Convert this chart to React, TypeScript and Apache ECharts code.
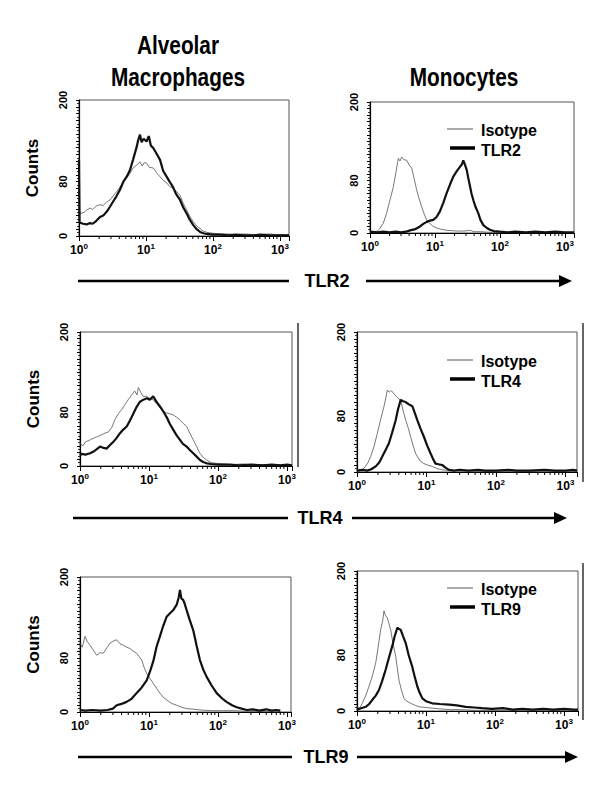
import { useEffect, useRef } from 'react';
import * as echarts from 'echarts';

// ---------- data (fluorescence intensity, counts) ----------
const amTlr2Iso: number[][] = [[1,40],[1.05,33],[1.2,35],[1.3,38],[1.46,41],[1.6,39],[1.8,44],[2.06,46],[2.3,45],[2.6,50],[2.9,53],[3.3,60],[3.7,66],[4.09,72],[4.6,80],[5.2,86],[5.77,92],[6.4,100],[7.2,104],[8.13,109],[8.8,103],[9.4,108],[10.2,107],[11.2,101],[12.9,100],[14.4,93],[16.2,87],[18,82],[20.4,78],[22.5,73],[25.3,70],[28,66],[32.2,60],[36,48],[40.5,38],[45,29],[50.8,21],[57,15],[64,11],[72,7],[84,5],[100,4],[130,3],[170,3],[220,2],[300,3],[400,2],[500,2],[700,3],[900,2],[1200,2],[1362,2]];
const amTlr2: number[][] = [[1,112],[1.02,20],[1.15,18],[1.3,17],[1.46,19],[1.6,18],[1.8,22],[2.06,28],[2.3,30],[2.6,36],[2.9,43],[3.2,50],[3.6,58],[4.09,68],[4.6,80],[5.2,88],[5.77,97],[6.4,112],[7.26,131],[7.6,140],[8.13,149],[8.6,138],[9.2,143],[10.2,139],[11,147],[11.8,133],[12.9,129],[14.4,121],[16.2,112],[18,96],[20.4,87],[22.5,80],[25.3,72],[28,62],[32.2,53],[36,42],[40.5,33],[45,24],[50.8,16],[57,10],[64,6],[72,4],[80.5,3],[100,2],[130,2],[170,1],[220,2],[300,1],[400,1],[500,2],[700,1],[900,1],[1200,1],[1362,1]];
const moTlr2Iso: number[][] = [[1,1],[1.2,2],[1.3,3],[1.42,7],[1.6,15],[1.8,30],[2.0,48],[2.28,70],[2.5,92],[2.73,114],[2.9,110],[3.07,116],[3.3,112],[3.67,111],[4.0,104],[4.38,99],[4.8,82],[5.22,66],[5.7,52],[6.24,40],[6.8,29],[7.45,20],[8.4,14],[9.4,10],[11,7],[13.4,5],[16,4],[21.6,3],[28,3],[35,4],[40,2],[50,2],[70,1],[100,1],[200,1],[400,1],[800,1],[1375,1]];
const moTlr2: number[][] = [[1,2],[1.3,1],[1.6,2],[2,1],[2.5,2],[3,1],[3.6,2],[4.12,4],[5,6],[5.89,10],[6.6,14],[7.45,17],[8.4,19],[9.4,20],[10.5,24],[11.9,33],[13.4,46],[15.1,61],[17,74],[19.1,86],[21.5,94],[24.2,101],[26,105],[27.2,111],[29,104],[30.8,96],[32.5,84],[34.6,71],[36.5,60],[38.9,50],[42,40],[46.4,30],[50,20],[55.4,12],[62,8],[70,5],[80,3],[100,2],[130,1],[170,2],[250,1],[350,2],[500,1],[700,2],[1000,1],[1375,1]];
const amTlr4Iso: number[][] = [[1,34],[1.1,30],[1.2,36],[1.4,39],[1.6,42],[1.8,44],[2.0,46],[2.3,49],[2.6,51],[2.9,58],[3.2,69],[3.6,78],[4.0,84],[4.5,92],[5.0,99],[5.6,106],[6.2,112],[6.7,106],[7.0,117],[7.6,110],[8.2,104],[9.26,104],[10.3,101],[11.5,99],[12.8,93],[14.4,87],[16,82],[18,79],[20,78],[22.5,76],[25,73],[28.1,69],[31,64],[35.1,59],[39,49],[43.8,39],[49,29],[54.7,19],[61,13],[68.5,9],[80,5],[95,4],[120,3],[160,2],[220,3],[300,2],[450,2],[600,1],[800,2],[1000,2],[1181,2]];
const amTlr4: number[][] = [[1,16],[1.06,18],[1.2,17],[1.4,19],[1.6,22],[1.95,29],[2.2,27],[2.44,26],[2.7,31],[3.04,36],[3.4,42],[3.8,49],[4.2,54],[4.75,59],[5.3,68],[5.92,78],[6.6,88],[7.4,96],[8.3,99],[9.26,101],[10.3,99],[11.5,104],[12.8,96],[14.4,89],[16,82],[18,73],[20,63],[22.5,54],[25,46],[28.1,39],[31,33],[35.1,29],[39,24],[43.8,19],[49,14],[54.7,9],[61,6],[68.5,4],[80,3],[100,2],[150,2],[200,1],[300,2],[450,1],[600,2],[800,1],[1000,2],[1181,1]];
const moTlr4Iso: number[][] = [[1,1],[1.15,2],[1.33,8],[1.45,14],[1.57,22],[1.75,36],[1.96,55],[2.2,76],[2.45,94],[2.6,106],[2.73,117],[2.9,114],[3.05,116],[3.22,115],[3.5,110],[3.8,107],[4.0,104],[4.25,103],[4.6,88],[5.02,74],[5.5,62],[5.93,50],[6.4,38],[7.0,26],[7.6,20],[8.25,15],[9.2,12],[10.3,10],[12.1,8],[14,5],[17,3],[22,2],[30,2],[50,1],[100,1],[200,1],[500,1],[1000,1],[1463,1]];
const moTlr4: number[][] = [[1,2],[1.2,3],[1.4,2],[1.6,4],[1.86,8],[2.1,14],[2.31,22],[2.6,32],[2.88,41],[3.2,56],[3.6,74],[3.9,90],[4.25,103],[4.6,101],[5.02,100],[5.5,97],[6.25,94],[6.8,84],[7.37,74],[8.2,62],[9.2,50],[10.2,38],[11.5,26],[12.5,18],[13.5,12],[15,11],[16.8,10],[19,6],[21.1,3],[25,2],[30,3],[40,2],[55,3],[70,2],[100,2],[150,3],[200,2],[300,2],[500,3],[700,2],[1000,2],[1300,3],[1463,2]];
const amTlr9Iso: number[][] = [[1,102],[1.08,96],[1.18,112],[1.28,104],[1.4,99],[1.55,92],[1.75,84],[1.95,88],[2.17,87],[2.45,95],[2.72,102],[3.05,105],[3.4,107],[3.8,101],[4.24,99],[4.74,96],[5.3,94],[5.9,90],[6.63,87],[7.2,82],[7.83,77],[8.5,66],[9.26,57],[10.3,50],[11.6,42],[12.9,35],[14.4,28],[16,22],[18,18],[21,13],[25.2,10],[30,7],[35.1,5],[45,4],[54.7,3],[80,2],[120,2],[180,2],[250,1],[400,1],[600,1],[800,1]];
const amTlr9: number[][] = [[1,3],[1.2,2],[1.5,3],[2,2],[2.5,3],[3.0,5],[3.4,10],[4.0,12],[4.74,15],[5.5,19],[6.63,28],[7.8,36],[9.26,47],[10.5,62],[11.6,76],[12.9,97],[14.4,112],[16,127],[18,141],[20,146],[22.5,151],[25.2,159],[27,170],[28.1,181],[29.5,168],[31.3,166],[33,160],[35.1,151],[39,136],[43.8,121],[49,98],[54.7,77],[61,63],[68.5,52],[80,40],[95.7,28],[115,20],[133,15],[160,10],[187,7],[220,5],[260,3],[320,4],[400,2],[500,4],[600,2],[700,3],[800,2]];
const moTlr9Iso: number[][] = [[1,6],[1.1,4],[1.19,11],[1.34,22],[1.49,35],[1.67,50],[1.87,69],[2.05,95],[2.2,116],[2.35,128],[2.46,143],[2.6,136],[2.75,133],[2.9,125],[3.08,116],[3.3,98],[3.64,78],[3.85,60],[4.06,44],[4.4,30],[4.79,18],[5.3,14],[6.0,11],[7.0,8],[7.92,6],[10,5],[12.3,4],[16,3],[22,2],[30,2],[50,1],[100,1],[300,1],[1000,1],[1595,1]];
const moTlr9: number[][] = [[1,2],[1.15,4],[1.34,6],[1.5,10],[1.67,16],[1.87,22],[2.08,30],[2.3,42],[2.6,59],[2.9,76],[3.25,93],[3.5,106],[3.84,119],[4.06,117],[4.3,116],[4.6,108],[5.08,97],[5.6,80],[6.33,63],[6.9,48],[7.49,35],[8.1,26],[8.85,18],[10,14],[12.3,11],[16,10],[21.6,9],[28,8],[37.6,6],[50,5],[65,4],[90,3],[130,4],[180,2],[250,3],[350,2],[500,3],[700,2],[1000,3],[1400,2],[1595,2]];

const yLabels = [0, 80, 200];
const minorX = [2, 3, 4, 5, 6, 7, 8, 9, 20, 30, 40, 50, 60, 70, 80, 90, 200, 300, 400, 500, 600, 700, 800, 900];
const titles = ['Alveolar', 'Macrophages', 'Monocytes'];
const markers = ['TLR2', 'TLR4', 'TLR9'];
const isoName = 'Isotype';

// ---------- layout ----------
const FONT = '"Liberation Sans", Arial, Helvetica, sans-serif';
const panels = [
  { left: 79, top: 100, width: 210, height: 136, xMax: 1362, iso: amTlr2Iso, pos: amTlr2, counts: true, legend: null as null | { name: string; y: number } },
  { left: 370, top: 102, width: 204, height: 131, xMax: 1375, iso: moTlr2Iso, pos: moTlr2, counts: false, legend: { name: markers[0], y: 129 } },
  { left: 80, top: 332, width: 212, height: 134, xMax: 1181, iso: amTlr4Iso, pos: amTlr4, counts: true, legend: null },
  { left: 357, top: 332, width: 220, height: 140, xMax: 1463, iso: moTlr4Iso, pos: moTlr4, counts: false, legend: { name: markers[1], y: 360 } },
  { left: 80, top: 577, width: 211, height: 135, xMax: 1143, iso: amTlr9Iso, pos: amTlr9, counts: true, legend: null },
  { left: 357, top: 571, width: 221, height: 140, xMax: 1595, iso: moTlr9Iso, pos: moTlr9, counts: false, legend: { name: markers[2], y: 588 } },
];

const arrowRows = [
  { y: 281, l1: 78, l2: 289, tx: 327, a1: 366, tip: 572 },
  { y: 518, l1: 73, l2: 288, tx: 320, a1: 352, tip: 567 },
  { y: 757, l1: 78, l2: 292, tx: 326, a1: 357, tip: 578 },
];

function buildOption() {
  const grid: any[] = [];
  const xAxis: any[] = [];
  const yAxis: any[] = [];
  const series: any[] = [];
  const graphic: any[] = [];

  panels.forEach((p, i) => {
    grid.push({
      left: p.left, top: p.top, width: p.width, height: p.height,
      show: true, borderColor: '#555', borderWidth: 1, backgroundColor: 'transparent',
      containLabel: false, outerBoundsMode: 'none',
    });
    xAxis.push({
      type: 'log', logBase: 10, gridIndex: i, min: 1, max: p.xMax,
      axisLine: { show: true, lineStyle: { color: '#000', width: 1.2 } },
      axisTick: { show: true, length: 5, lineStyle: { color: '#000', width: 1 } },
      splitLine: { show: false },
      minorTick: { show: false },
      axisLabel: {
        margin: 6,
        color: '#000',
        formatter: (v: number) => {
          const l = Math.log10(v);
          const e = Math.round(l);
          if (Math.abs(l - e) > 1e-6) return '';
          return `{b|10}{s|${e}}`;
        },
        rich: {
          b: { fontSize: 12, fontWeight: 'bold', fontFamily: FONT, color: '#000', lineHeight: 14, verticalAlign: 'bottom' },
          s: { fontSize: 8, fontWeight: 'bold', fontFamily: FONT, color: '#000', lineHeight: 9, verticalAlign: 'top' },
        },
      },
    });
    yAxis.push({
      type: 'value', gridIndex: i, min: 0, max: 200, interval: 10,
      axisLine: { show: true, lineStyle: { color: '#000', width: 1.2 } },
      axisTick: { show: true, length: 3, lineStyle: { color: '#000', width: 1 } },
      minorTick: { show: true, splitNumber: 2, length: 2, lineStyle: { color: '#333' } },
      splitLine: { show: false },
      axisLabel: {
        rotate: 90, margin: 11, color: '#000', fontSize: 11, fontWeight: 'bold', fontFamily: FONT,
        formatter: (v: number) => (yLabels.includes(v) ? String(v) : ''),
      },
      name: p.counts ? 'Counts' : '',
      nameLocation: 'middle', nameRotate: 90, nameGap: 38,
      nameTextStyle: { fontSize: 17, fontWeight: 'bold', fontFamily: FONT, color: '#000' },
    });
    series.push({
      type: 'line', name: isoName, xAxisIndex: i, yAxisIndex: i, data: p.iso,
      symbol: 'none', lineStyle: { width: 0.8, color: '#555' }, z: 3, silent: true,
    });
    series.push({
      type: 'line', name: p.legend ? p.legend.name : markers[Math.floor(i / 2)], xAxisIndex: i, yAxisIndex: i, data: p.pos,
      symbol: 'none', lineStyle: { width: 2.2, color: '#111' }, z: 4, silent: true,
    });
    series.push({
      type: 'custom', xAxisIndex: i, yAxisIndex: i, silent: true, clip: false,
      data: minorX.filter((v) => v < p.xMax).map((v) => [v, 0]),
      encode: { x: 0, y: 1 },
      renderItem: (_params: any, api: any) => {
        const pt = api.coord([api.value(0), 0]);
        return {
          type: 'line',
          shape: { x1: pt[0], y1: pt[1], x2: pt[0], y2: pt[1] + 3 },
          style: { stroke: '#000', lineWidth: 1 },
        };
      },
    });

    if (p.legend) {
      const ly = p.legend.y;
      graphic.push(
        { type: 'line', shape: { x1: 447, y1: ly, x2: 473, y2: ly }, style: { stroke: '#555', lineWidth: 1 } },
        { type: 'text', x: 481, y: ly + 1, style: { text: isoName, fontSize: 16, fontWeight: 'bold', fontFamily: FONT, fill: '#000', align: 'left', verticalAlign: 'middle' } },
        { type: 'line', shape: { x1: 450, y1: ly + 19, x2: 475, y2: ly + 19 }, style: { stroke: '#000', lineWidth: 3.5 } },
        { type: 'text', x: 481, y: ly + 21, style: { text: p.legend.name, fontSize: 16, fontWeight: 'bold', fontFamily: FONT, fill: '#000', align: 'left', verticalAlign: 'middle' } },
      );
    }
  });

  // column titles
  graphic.push(
    { type: 'text', x: 178, y: 45, scaleX: 0.8, style: { text: titles[0], fontSize: 26, fontWeight: 'bold', fontFamily: FONT, fill: '#000', align: 'center', verticalAlign: 'middle' } },
    { type: 'text', x: 178, y: 77, scaleX: 0.8, style: { text: titles[1], fontSize: 26, fontWeight: 'bold', fontFamily: FONT, fill: '#000', align: 'center', verticalAlign: 'middle' } },
    { type: 'text', x: 464, y: 77, scaleX: 0.8, style: { text: titles[2], fontSize: 26, fontWeight: 'bold', fontFamily: FONT, fill: '#000', align: 'center', verticalAlign: 'middle' } },
  );

  // marker arrows
  arrowRows.forEach((r, i) => {
    graphic.push(
      { type: 'line', shape: { x1: r.l1, y1: r.y, x2: r.l2, y2: r.y }, style: { stroke: '#000', lineWidth: 2.5 } },
      { type: 'text', x: r.tx, y: r.y, style: { text: markers[i], fontSize: 18, fontWeight: 'bold', fontFamily: FONT, fill: '#000', align: 'center', verticalAlign: 'middle' } },
      { type: 'line', shape: { x1: r.a1, y1: r.y, x2: r.tip - 10, y2: r.y }, style: { stroke: '#000', lineWidth: 2.5 } },
      { type: 'polygon', shape: { points: [[r.tip - 13, r.y - 6], [r.tip, r.y], [r.tip - 13, r.y + 6]] }, style: { fill: '#000' } },
    );
  });

  // stray frame edges of the original figure
  graphic.push(
    { type: 'line', shape: { x1: 298, y1: 323, x2: 298, y2: 467 }, style: { stroke: '#333', lineWidth: 1.5 } },
    { type: 'line', shape: { x1: 583, y1: 323, x2: 583, y2: 482 }, style: { stroke: '#333', lineWidth: 1.5 } },
    { type: 'line', shape: { x1: 583, y1: 563, x2: 583, y2: 720 }, style: { stroke: '#333', lineWidth: 1.5 } },
  );

  return {
    animation: false,
    backgroundColor: '#fff',
    textStyle: { fontFamily: FONT },
    grid, xAxis, yAxis, series, graphic,
  };
}

export default function App() {
  const ref = useRef<HTMLDivElement>(null);
  useEffect(() => {
    document.body.style.margin = '0';
    const chart = echarts.init(ref.current!, null, { renderer: 'svg' });
    chart.setOption(buildOption() as any);
    return () => chart.dispose();
  }, []);
  return <div ref={ref} style={{ position: 'absolute', left: 0, top: 0, width: 600, height: 800, background: '#fff' }} />;
}
